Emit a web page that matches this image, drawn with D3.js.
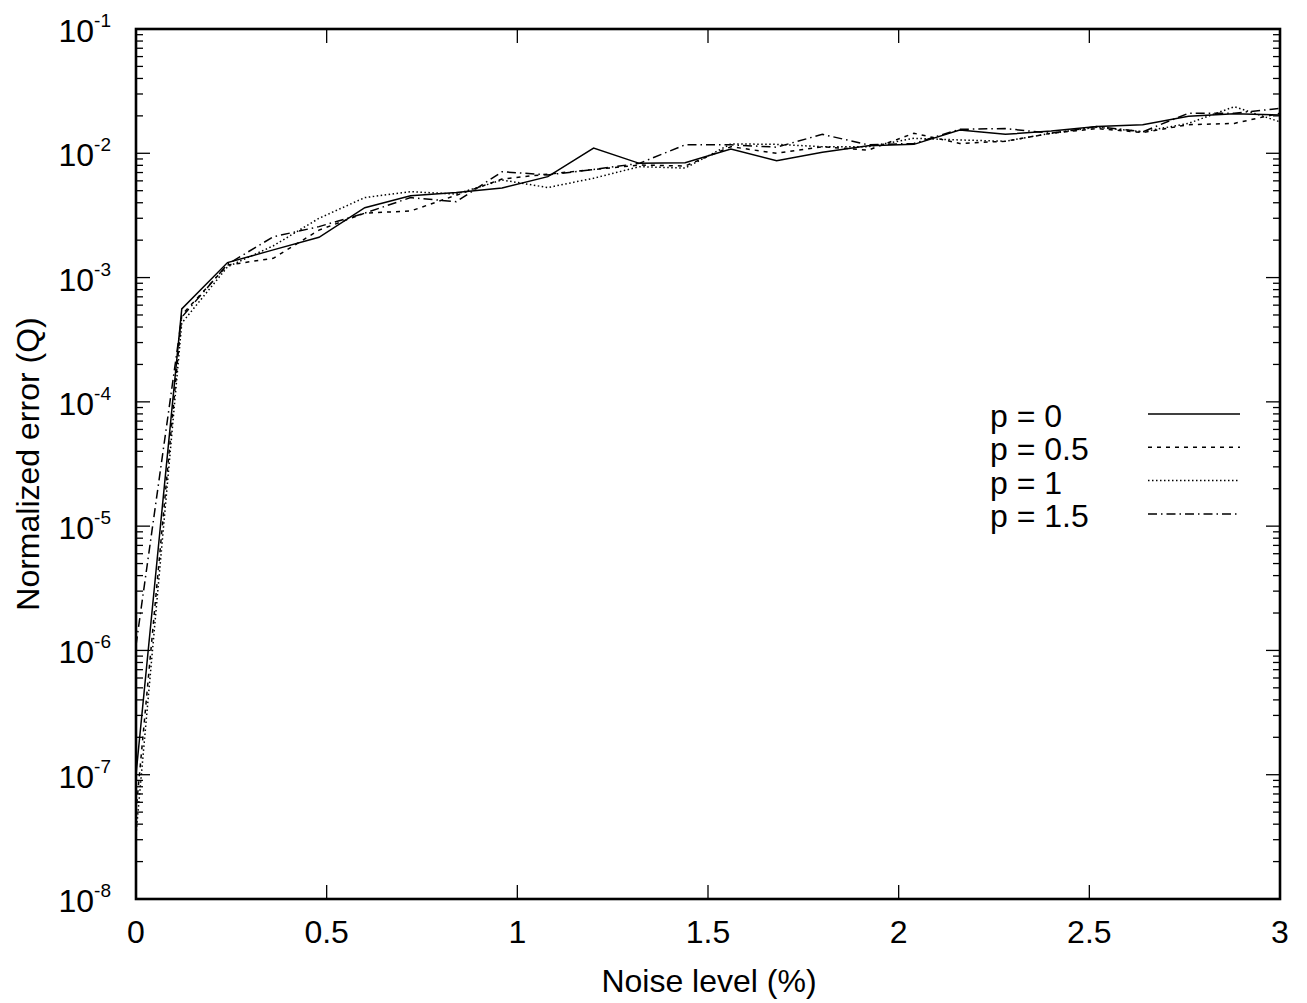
<!DOCTYPE html>
<html>
<head>
<meta charset="utf-8">
<script src="https://cdn.jsdelivr.net/npm/d3@7"></script>
<style>
  html, body { margin: 0; padding: 0; background: #fff; }
  svg text { font-family: "Liberation Sans", Arial, Helvetica, sans-serif; fill: #000; }
</style>
</head>
<body>
<svg id="chart" width="1307" height="1003"></svg>
<script>
// ---- data ----
const noise = [0, 0.12, 0.24, 0.36, 0.48, 0.6, 0.72, 0.84, 0.96, 1.08, 1.2, 1.32, 1.44,
               1.56, 1.68, 1.8, 1.92, 2.04, 2.16, 2.28, 2.4, 2.52, 2.64, 2.76, 2.88, 3.0];
const seriesNames = ["p = 0", "p = 0.5", "p = 1", "p = 1.5"];
const p0   = [1e-7, 5.6e-4, 1.32e-3, 1.67e-3, 2.11e-3, 3.65e-3, 4.56e-3, 4.83e-3, 5.26e-3, 6.49e-3, 1.10e-2, 8.3e-3, 8.4e-3,
              1.08e-2, 8.7e-3, 1.02e-2, 1.15e-2, 1.18e-2, 1.54e-2, 1.42e-2, 1.51e-2, 1.64e-2, 1.70e-2, 1.99e-2, 2.08e-2, 2.03e-2];
const p05  = [5e-8, 5.0e-4, 1.26e-3, 1.43e-3, 2.41e-3, 3.3e-3, 3.43e-3, 4.6e-3, 6.2e-3, 6.8e-3, 7.4e-3, 8.05e-3, 7.9e-3,
              1.13e-2, 1.0e-2, 1.13e-2, 1.06e-2, 1.45e-2, 1.2e-2, 1.25e-2, 1.45e-2, 1.58e-2, 1.47e-2, 1.7e-2, 1.74e-2, 2.1e-2];
const p1   = [3.3e-8, 4.3e-4, 1.22e-3, 1.8e-3, 3.0e-3, 4.4e-3, 4.91e-3, 4.7e-3, 6.1e-3, 5.3e-3, 6.3e-3, 7.8e-3, 7.6e-3,
              1.19e-2, 1.18e-2, 1.13e-2, 1.13e-2, 1.32e-2, 1.28e-2, 1.25e-2, 1.45e-2, 1.62e-2, 1.49e-2, 1.74e-2, 2.37e-2, 1.79e-2];
const p15  = [1.1e-6, 4.8e-4, 1.28e-3, 2.13e-3, 2.57e-3, 3.3e-3, 4.4e-3, 4.08e-3, 7.1e-3, 6.7e-3, 7.4e-3, 8.3e-3, 1.17e-2,
              1.17e-2, 1.12e-2, 1.42e-2, 1.17e-2, 1.2e-2, 1.56e-2, 1.58e-2, 1.45e-2, 1.64e-2, 1.49e-2, 2.1e-2, 2.1e-2, 2.3e-2];
const xTicks = [0, 0.5, 1, 1.5, 2, 2.5, 3];
const xTickLabels = ["0", "0.5", "1", "1.5", "2", "2.5", "3"];
const yExponents = [-8, -7, -6, -5, -4, -3, -2, -1];

// ---- layout ----
const svg = d3.select("#chart");
const L = 136, R = 1280, T = 29, B = 899;
const x = d3.scaleLinear().domain([0, 3]).range([L, R]);
const y = d3.scaleLog().domain([1e-8, 1e-1]).range([B, T]);

const allSeries = [p0, p05, p1, p15];
const dashes = [null, "4,5", "1.5,2.5", "9,4,1.5,4"];

// ticks
const g = svg.append("g").attr("stroke", "#000").attr("stroke-width", 1.3);
yExponents.forEach(e => {
  const yy = y(Math.pow(10, e));
  g.append("line").attr("x1", L).attr("x2", L + 14).attr("y1", yy).attr("y2", yy);
  g.append("line").attr("x1", R).attr("x2", R - 14).attr("y1", yy).attr("y2", yy);
  if (e < -1) {
    for (let m = 2; m <= 9; m++) {
      const ym = y(m * Math.pow(10, e));
      g.append("line").attr("x1", L).attr("x2", L + 7).attr("y1", ym).attr("y2", ym);
      g.append("line").attr("x1", R).attr("x2", R - 7).attr("y1", ym).attr("y2", ym);
    }
  }
});
xTicks.forEach(v => {
  const xx = x(v);
  g.append("line").attr("x1", xx).attr("x2", xx).attr("y1", B).attr("y2", B - 14);
  g.append("line").attr("x1", xx).attr("x2", xx).attr("y1", T).attr("y2", T + 14);
});

// lines
const line = d3.line().x((d, i) => x(noise[i])).y(d => y(d));
allSeries.forEach((s, k) => {
  svg.append("path")
    .attr("d", line(s))
    .attr("fill", "none")
    .attr("stroke", "#000")
    .attr("stroke-width", 1.5)
    .attr("stroke-dasharray", dashes[k]);
});

// frame
svg.append("rect").attr("x", L).attr("y", T).attr("width", R - L).attr("height", B - T)
  .attr("fill", "none").attr("stroke", "#000").attr("stroke-width", 2.6);

// y tick labels
yExponents.forEach(e => {
  const yy = y(Math.pow(10, e));
  const t = svg.append("text").attr("x", 111).attr("y", yy + 13)
    .attr("text-anchor", "end").attr("font-size", 32);
  t.append("tspan").text("10");
  t.append("tspan").attr("font-size", 19).attr("dy", -15).text(String(e));
});

// x tick labels
xTicks.forEach((v, i) => {
  svg.append("text").attr("x", x(v)).attr("y", 943)
    .attr("text-anchor", "middle").attr("font-size", 32).text(xTickLabels[i]);
});

// axis titles
svg.append("text").attr("x", (L + R) / 2 + 1).attr("y", 992)
  .attr("text-anchor", "middle").attr("font-size", 32).text("Noise level (%)");
svg.append("text").attr("transform", `translate(39,${(T + B) / 2}) rotate(-90)`)
  .attr("text-anchor", "middle").attr("font-size", 32).text("Normalized error (Q)");

// legend
seriesNames.forEach((name, k) => {
  const ly = 414 + k * 33.3;
  svg.append("text").attr("x", 990).attr("y", ly + 13).attr("font-size", 32).text(name);
  svg.append("line").attr("x1", 1148).attr("x2", 1240).attr("y1", ly).attr("y2", ly)
    .attr("stroke", "#000").attr("stroke-width", 1.5).attr("stroke-dasharray", dashes[k]);
});
</script>
</body>
</html>
